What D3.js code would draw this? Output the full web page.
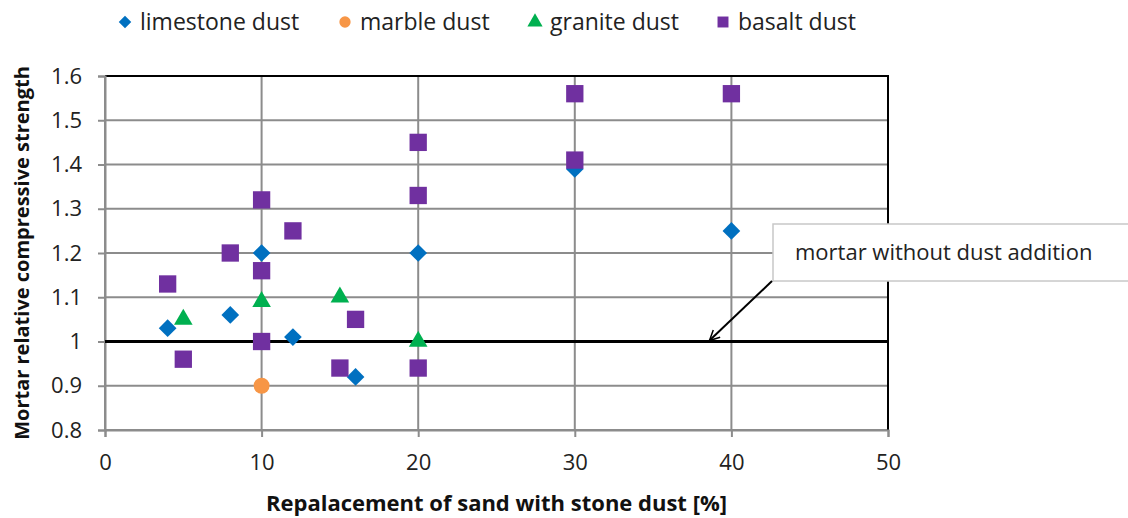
<!DOCTYPE html>
<html>
<head>
<meta charset="utf-8">
<script src="https://cdn.jsdelivr.net/npm/d3@7"></script>
<style>
  body { margin: 0; background: #fff; }
  svg { font-family: "Open Sans", sans-serif; }
</style>
</head>
<body>
<div id="chart"></div>
<script>
// Data
const seriesNames = ["limestone dust", "marble dust", "granite dust", "basalt dust"];
const limestone = [[4, 1.03], [8, 1.06], [10, 1.20], [12, 1.01], [16, 0.92], [20, 1.20], [30, 1.39], [40, 1.25]];
const marble = [[10, 0.90]];
const granite = [[5, 1.05], [10, 1.09], [15, 1.10], [20, 1.00]];
const basalt = [[4, 1.13], [5, 0.96], [8, 1.20], [10, 1.32], [10, 1.16], [10, 1.00], [12, 1.25],
                [15, 0.94], [16, 1.05], [20, 1.45], [20, 1.33], [20, 0.94], [30, 1.56], [30, 1.41], [40, 1.56]];
const xTicks = [0, 10, 20, 30, 40, 50];
const yTicks = [0.8, 0.9, 1, 1.1, 1.2, 1.3, 1.4, 1.5, 1.6];
const baseline = 1;

const width = 1128, height = 518;
const margin = { top: 76, right: 240, bottom: 88, left: 105 };

const series = [
    { name: seriesNames[0], data: limestone, color: "#0070C0", shape: d3.symbolDiamond2, size: 200 },
    { name: seriesNames[1], data: marble, color: "#F79646", shape: d3.symbolCircle, size: 200 },
    { name: seriesNames[2], data: granite, color: "#00B050", shape: d3.symbolTriangle, size: 150 },
    { name: seriesNames[3], data: basalt, color: "#7030A0", shape: d3.symbolSquare, size: 300 }
];

const svg = d3.select("#chart").append("svg")
    .attr("width", width)
    .attr("height", height);

const x = d3.scaleLinear().domain([0, 50]).range([margin.left, width - margin.right]);
const y = d3.scaleLinear().domain([0.8, 1.6]).range([height - margin.bottom, margin.top]);

// gridlines
svg.append("g")
    .selectAll("line")
    .data(yTicks)
    .enter().append("line")
    .attr("x1", x(0)).attr("x2", x(50))
    .attr("y1", d => y(d)).attr("y2", d => y(d))
    .attr("stroke", "#8c8c8c").attr("stroke-width", 2);

svg.append("g")
    .selectAll("line")
    .data(xTicks)
    .enter().append("line")
    .attr("x1", d => x(d)).attr("x2", d => x(d))
    .attr("y1", y(0.8)).attr("y2", y(1.6))
    .attr("stroke", "#8c8c8c").attr("stroke-width", 2);

// black top & right border
svg.append("path")
    .attr("d", `M${x(0)},${y(1.6)}H${x(50)}V${y(0.8)}`)
    .attr("fill", "none").attr("stroke", "#000").attr("stroke-width", 2);

// axes
const xAxis = svg.append("g")
    .attr("transform", `translate(0,${y(0.8)})`)
    .call(d3.axisBottom(x).tickValues(xTicks).tickSize(7).tickPadding(17).tickFormat(d3.format("d")));
const yAxis = svg.append("g")
    .attr("transform", `translate(${x(0)},0)`)
    .call(d3.axisLeft(y).tickValues(yTicks).tickSize(7).tickPadding(16).tickFormat(d => d === 1 ? "1" : d3.format(".1f")(d)));

[xAxis, yAxis].forEach(g => {
    g.select(".domain").attr("stroke", "#8c8c8c").attr("stroke-width", 2);
    g.selectAll(".tick line").attr("stroke", "#8c8c8c").attr("stroke-width", 2);
    g.selectAll(".tick text").attr("fill", "#222").style("font-size", "22px").style("font-family", "Open Sans, sans-serif");
});

// reference line at 1
svg.append("line")
    .attr("x1", x(0)).attr("x2", x(50))
    .attr("y1", y(baseline)).attr("y2", y(baseline))
    .attr("stroke", "#000").attr("stroke-width", 3);

// points
series.forEach(s => {
    svg.append("g")
        .selectAll("path")
        .data(s.data)
        .enter().append("path")
        .attr("transform", d => `translate(${x(d[0])},${y(d[1])})`)
        .attr("d", d3.symbol().type(s.shape).size(s.size))
        .attr("fill", s.color);
});

// annotation
const note = svg.append("g");
note.append("defs").append("marker")
    .attr("id", "arrow")
    .attr("viewBox", "0 0 12 12")
    .attr("refX", 11).attr("refY", 6)
    .attr("markerWidth", 12).attr("markerHeight", 12)
    .attr("markerUnits", "userSpaceOnUse")
    .attr("orient", "auto")
    .append("path")
    .attr("d", "M1,1L11,6L1,11")
    .attr("fill", "none").attr("stroke", "#000").attr("stroke-width", 1.5);

note.append("rect")
    .attr("x", 773).attr("y", 224)
    .attr("width", 360).attr("height", 57)
    .attr("fill", "#fff").attr("stroke", "#c8c8c8").attr("stroke-width", 1.5);
note.append("text")
    .attr("x", 795).attr("y", 260)
    .style("font-size", "22px").attr("fill", "#222")
    .text("mortar without dust addition");
note.append("line")
    .attr("x1", 772).attr("y1", 281)
    .attr("x2", x(38.6)).attr("y2", y(baseline) - 1)
    .attr("stroke", "#000").attr("stroke-width", 2)
    .attr("marker-end", "url(#arrow)");

// axis titles
svg.append("text")
    .attr("x", x(25)).attr("y", 511)
    .attr("text-anchor", "middle")
    .style("font-size", "22px").style("font-weight", "bold").attr("fill", "#111")
    .text("Repalacement of sand with stone dust [%]");

svg.append("text")
    .attr("transform", `translate(29,${(y(0.8) + y(1.6)) / 2}) rotate(-90)`)
    .attr("text-anchor", "middle")
    .style("font-size", "20px").style("font-weight", "bold").attr("fill", "#111")
    .text("Mortar relative compressive strength");

// legend
const legendX = [125, 345, 535, 723];
const legend = svg.append("g");
series.forEach((s, i) => {
    const row = legend.append("g").attr("transform", `translate(${legendX[i]},22)`);
    row.append("path")
        .attr("d", d3.symbol().type(s.shape).size(s.shape === d3.symbolSquare ? 120 : 100))
        .attr("fill", s.color);
    row.append("text")
        .attr("x", 15).attr("y", 8)
        .style("font-size", "23px").attr("fill", "#222")
        .text(s.name);
});
</script>
</body>
</html>
